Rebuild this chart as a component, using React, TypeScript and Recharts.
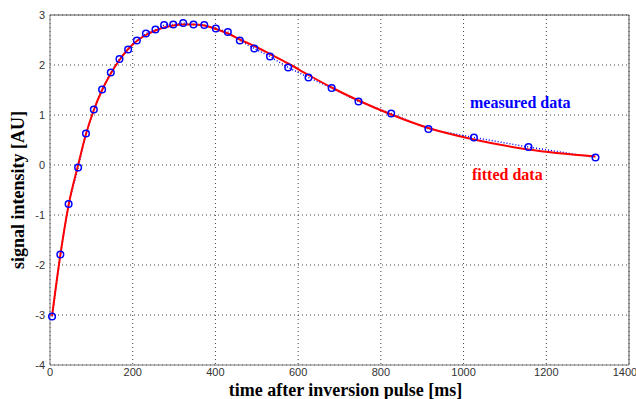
import React from "react";
import {
  ComposedChart,
  Line,
  XAxis,
  YAxis,
  CartesianGrid,
  ReferenceLine,
  Label,
  Customized,
} from "recharts";

const times = [5, 25, 45, 68, 87, 106, 126, 147, 168, 189, 210, 232, 255, 276, 298, 322, 347, 373, 401, 430, 459, 494, 532, 576, 625, 681, 746, 825, 915, 1025, 1157, 1319];
const measured = [-3.03, -1.79, -0.78, -0.05, 0.63, 1.11, 1.51, 1.85, 2.12, 2.31, 2.49, 2.63, 2.71, 2.8, 2.81, 2.84, 2.81, 2.8, 2.73, 2.66, 2.49, 2.33, 2.17, 1.95, 1.75, 1.54, 1.27, 1.03, 0.72, 0.55, 0.36, 0.15];
const fitted = [-3.02, -1.8, -0.8, 0.0, 0.62, 1.1, 1.5, 1.83, 2.1, 2.32, 2.48, 2.6, 2.69, 2.75, 2.79, 2.81, 2.81, 2.79, 2.72, 2.63, 2.51, 2.38, 2.22, 2.03, 1.8, 1.55, 1.29, 1.01, 0.74, 0.51, 0.31, 0.17];
const xTicks = [0, 200, 400, 600, 800, 1000, 1200, 1400];
const yTicks = [-4, -3, -2, -1, 0, 1, 2, 3];

const data = times.map((t, i) => ({ t, measured: measured[i], fitted: fitted[i] }));

const serif = '"Liberation Serif", "Times New Roman", serif';
const sans = '"Liberation Sans", Arial, sans-serif';

const Annotations = () => (
  <g>
    <text x={470} y={108} fill="#0000ff" fontFamily={serif} fontWeight="bold" fontSize={16}>
      measured data
    </text>
    <text x={472} y={180} fill="#ff0000" fontFamily={serif} fontWeight="bold" fontSize={16}>
      fitted data
    </text>
  </g>
);

const Dot = (props: any) => {
  const { cx, cy } = props;
  if (cx == null || cy == null) return null;
  return <circle cx={cx} cy={cy} r={3.3} stroke="#0000ff" strokeWidth={1.5} fill="none" />;
};

export default function App() {
  return (
    <div style={{ position: "fixed", left: 0, top: 0, background: "#fff" }}>
      <ComposedChart
        width={636}
        height={399}
        data={data}
        margin={{ top: 15, right: 7, left: 0, bottom: 0 }}
      >
        <CartesianGrid stroke="#444" strokeDasharray="1 3" strokeWidth={1} />
        <XAxis
          dataKey="t"
          type="number"
          domain={[0, 1400]}
          ticks={xTicks}
          height={34}
          stroke="#777"
          tickLine={false}
          tickSize={0}
          tick={{ fill: "#333", fontSize: 11, fontFamily: sans }}
          tickMargin={3}
        >
          <Label
            value="time after inversion pulse [ms]"
            position="insideBottom"
            offset={3}
            dx={6}
            style={{ fontFamily: serif, fontWeight: "bold", fontSize: 18, fill: "#000" }}
          />
        </XAxis>
        <YAxis
          type="number"
          domain={[-4, 3]}
          ticks={yTicks}
          width={50}
          stroke="#777"
          tickLine={false}
          tickSize={0}
          tick={{ fill: "#333", fontSize: 11, fontFamily: sans }}
          tickMargin={5}
        >
          <Label
            value="signal intensity [AU]"
            angle={-90}
            position="insideLeft"
            offset={18}
            style={{ fontFamily: serif, fontWeight: "bold", fontSize: 18, fill: "#000", textAnchor: "middle" }}
          />
        </YAxis>
        <ReferenceLine x={1400} stroke="#555" />
        <ReferenceLine y={3} stroke="#555" />
        <Line
          dataKey="measured"
          stroke="#0000ff"
          strokeDasharray="1 2"
          strokeWidth={1.5}
          dot={<Dot />}
          type="linear"
          isAnimationActive={false}
        />
        <Line
          dataKey="fitted"
          stroke="#ff0000"
          strokeWidth={2}
          dot={false}
          type="monotone"
          isAnimationActive={false}
        />
        <Customized component={Annotations} />
      </ComposedChart>
    </div>
  );
}
